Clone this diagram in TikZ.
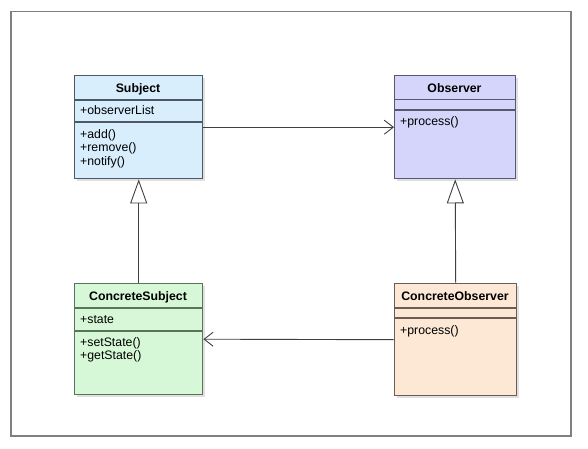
\documentclass[tikz,border=0pt]{standalone}
\usepackage{fontspec}
\setmainfont{Liberation Sans}
\usetikzlibrary{arrows.meta,shadows}
\definecolor{subjfill}{HTML}{D8EEFC}
\definecolor{subjdraw}{HTML}{4D5A66}
\definecolor{obsfill}{HTML}{D5D5FB}
\definecolor{obsdraw}{HTML}{585870}
\definecolor{csfill}{HTML}{D7F8D7}
\definecolor{csdraw}{HTML}{5B735B}
\definecolor{cofill}{HTML}{FDE8D6}
\definecolor{codraw}{HTML}{6B5D55}
\definecolor{framecol}{HTML}{808080}
\definecolor{linecol}{HTML}{404040}
\begin{document}
\begin{tikzpicture}[x=1pt,y=-1pt,
  cls/.style={rectangle, line width=1.4pt, inner sep=0pt, anchor=north west,
    drop shadow={shadow xshift=2.5pt, shadow yshift=-2.5pt, opacity=0.12, fill=black}},
  hdr/.style={font=\fontsize{12.3}{14}\selectfont\bfseries, inner sep=0pt, anchor=base},
  mem/.style={font=\fontsize{12.3}{14}\selectfont, inner sep=0pt, anchor=base west},
  assoc/.style={draw=linecol, line width=0.9pt, -{Straight Barb[length=9pt,width=14pt]}},
  inherit/.style={draw=linecol, line width=0.9pt, -{Triangle[open,length=24pt,width=17pt,fill=white]}}
]
\useasboundingbox (0,0) rectangle (588,449);
\fill[white] (0,0) rectangle (588,449);
\node[draw=framecol, line width=1.5pt, inner sep=0pt, minimum width=560pt, minimum height=424pt, anchor=north west] (frame) at (10,11) {};

% Subject
\node[cls, fill=subjfill, draw=subjdraw, minimum width=128pt, minimum height=103pt] (subj) at (74,75) {};
\draw[subjdraw, line width=1.4pt] (74,100) -- (202,100) (74,122) -- (202,122);
\node[hdr] (subjT) at (138,92.5) {Subject};
\node[mem] (subjA) at (80,115) {+observerList};
\node[mem] (subjM1) at (80,138.5) {+add()};
\node[mem] (subjM2) at (80,151.8) {+remove()};
\node[mem] (subjM3) at (80,165.1) {+notify()};

% Observer
\node[cls, fill=obsfill, draw=obsdraw, minimum width=121pt, minimum height=103pt] (obs) at (394,75) {};
\draw[obsdraw, line width=1.4pt] (394,99.5) -- (515,99.5) (394,110) -- (515,110);
\node[hdr] (obsT) at (454.5,92.5) {Observer};
\node[mem] (obsM1) at (400,126) {+process()};

% ConcreteSubject
\node[cls, fill=csfill, draw=csdraw, minimum width=128pt, minimum height=111pt] (csub) at (74,283) {};
\draw[csdraw, line width=1.4pt] (74,308) -- (202,308) (74,331) -- (202,331);
\node[hdr] (csubT) at (138,300.7) {ConcreteSubject};
\node[mem] (csubA) at (80,323.5) {+state};
\node[mem] (csubM1) at (80,346.5) {+setState()};
\node[mem] (csubM2) at (80,359.8) {+getState()};

% ConcreteObserver
\node[cls, fill=cofill, draw=codraw, minimum width=122pt, minimum height=112pt] (cobs) at (394,283) {};
\draw[codraw, line width=1.4pt] (394,308) -- (516,308) (394,318) -- (516,318);
\node[hdr] (cobsT) at (455,300.7) {ConcreteObserver};
\node[mem] (cobsM1) at (400,334) {+process()};

% connectors
\draw[assoc] (subj.east) -- (obs.west);
\draw[assoc] (cobs.west) -- (csub.east);
\draw[inherit] (csub.north) -- (subj.south);
\draw[inherit] (cobs.north) -- (obs.south);
\end{tikzpicture}
\end{document}
